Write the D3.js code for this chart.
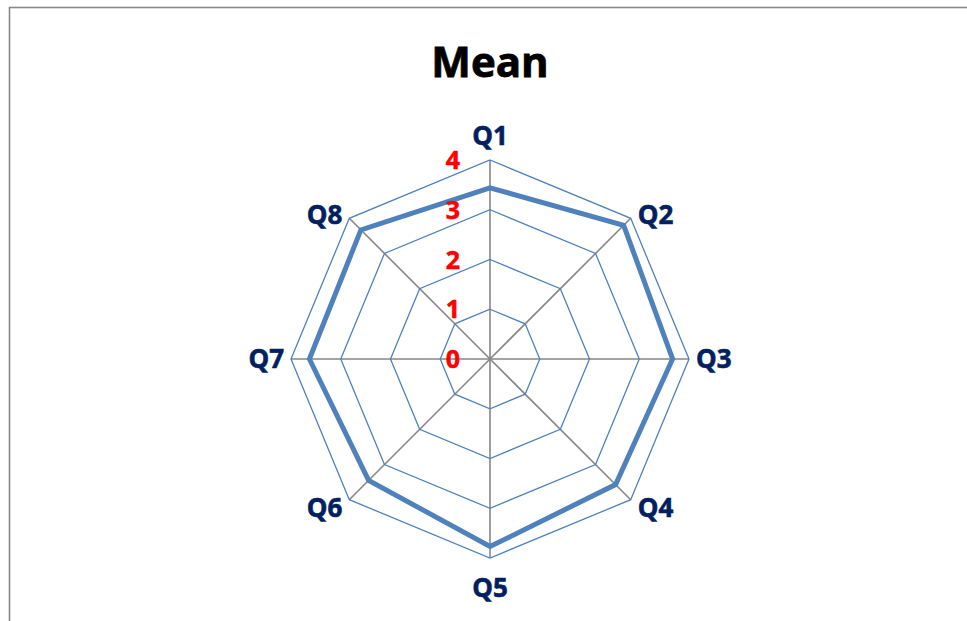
<!DOCTYPE html>
<html>
<head>
<meta charset="utf-8">
<script src="https://cdn.jsdelivr.net/npm/d3@7"></script>
<style>
  html, body { margin: 0; padding: 0; background: #fff; }
  svg { display: block; }
</style>
</head>
<body>
<svg id="chart" width="967" height="621"></svg>
<script>
// chart data
var categories = ["Q1", "Q2", "Q3", "Q4", "Q5", "Q6", "Q7", "Q8"];
var meanValues = [3.44, 3.80, 3.67, 3.57, 3.77, 3.45, 3.63, 3.67];
var tickValues = [0, 1, 2, 3, 4];

var WIDTH = 967, HEIGHT = 621;
var CX = 490, CY = 359, RADIUS = 199;
var RING_COLOR = "#4f81bd";
var SPOKE_COLOR = "#868686";
var LABEL_COLOR = "#002060";

var svg = d3.select("#chart");

// outer frame (only top & left visible in the crop)
svg.append("rect")
    .attr("x", 9.5)
    .attr("y", 7.5)
    .attr("width", WIDTH + 20)
    .attr("height", HEIGHT + 20)
    .attr("fill", "none")
    .attr("stroke", "#898989")
    .attr("stroke-width", 1.6);

svg.append("text")
    .attr("x", CX)
    .attr("y", 77)
    .attr("text-anchor", "middle")
    .style("font-family", "'Open Sans', sans-serif")
    .style("font-weight", "bold")
    .style("font-size", "42px")
    .style("fill", "#000")
    .style("stroke", "#000")
    .style("stroke-width", 0.8)
    .text("Mean");

var r = d3.scaleLinear().domain([0, 4]).range([0, RADIUS]);
var angle = d3.scalePoint().domain(categories).range([0, 2 * Math.PI * (categories.length - 1) / categories.length]);

var g = svg.append("g").attr("transform", "translate(" + CX + "," + CY + ")");

function px(cat, v) { return r(v) * Math.sin(angle(cat)); }
function py(cat, v) { return -r(v) * Math.cos(angle(cat)); }

// spokes
g.selectAll(".spoke")
    .data(categories)
    .enter()
    .append("line")
    .attr("class", "spoke")
    .attr("x1", 0).attr("y1", 0)
    .attr("x2", function (d) { return px(d, 4); })
    .attr("y2", function (d) { return py(d, 4); })
    .attr("stroke", SPOKE_COLOR)
    .attr("stroke-width", 1.6);

// gridline rings
var ringLine = d3.line();
g.selectAll(".ring")
    .data(tickValues.filter(function (t) { return t > 0; }))
    .enter()
    .append("path")
    .attr("class", "ring")
    .attr("d", function (t) {
        return ringLine(categories.map(function (c) { return [px(c, t), py(c, t)]; })) + "Z";
    })
    .attr("fill", "none")
    .attr("stroke", RING_COLOR)
    .attr("stroke-width", 1.3);

// mean series
var series = categories.map(function (c, i) { return [px(c, meanValues[i]), py(c, meanValues[i])]; });
g.append("path")
    .attr("d", d3.line()(series) + "Z")
    .attr("fill", "none")
    .attr("stroke", RING_COLOR)
    .attr("stroke-width", 5)
    .attr("stroke-linejoin", "miter");

// value axis labels
g.selectAll(".tick")
    .data(tickValues)
    .enter()
    .append("text")
    .attr("class", "tick")
    .attr("x", -30)
    .attr("y", function (t) { return -r(t); })
    .attr("dy", "0.36em")
    .attr("text-anchor", "end")
    .style("font-family", "'Open Sans', sans-serif")
    .style("font-weight", "bold")
    .style("font-size", "25px")
    .style("fill", "#ff0000")
    .style("stroke", "#ff0000")
    .style("stroke-width", 0.5)
    .text(function (t) { return t; });

// category labels
g.selectAll(".cat")
    .data(categories)
    .enter()
    .append("text")
    .attr("class", "cat")
    .each(function (d) {
        var a = angle(d);
        var s = Math.sin(a), c = Math.cos(a);
        var x = px(d, 4), y = py(d, 4);
        var anchor = "middle";
        if (s > 0.01) { anchor = "start"; x += 7; }
        if (s < -0.01) { anchor = "end"; x -= 7; }
        if (Math.abs(s) < 0.01) y += c > 0 ? -24 : 30;
        else if (c > 0.01) y -= 4;
        else if (c < -0.01) y += 8;
        d3.select(this)
            .attr("x", x)
            .attr("y", y)
            .attr("dy", "0.36em")
            .attr("text-anchor", anchor);
    })
    .style("font-family", "'Open Sans', sans-serif")
    .style("font-weight", "bold")
    .style("font-size", "26px")
    .style("fill", LABEL_COLOR)
    .style("stroke", LABEL_COLOR)
    .style("stroke-width", 0.6)
    .text(function (d) { return d; });
</script>
</body>
</html>
